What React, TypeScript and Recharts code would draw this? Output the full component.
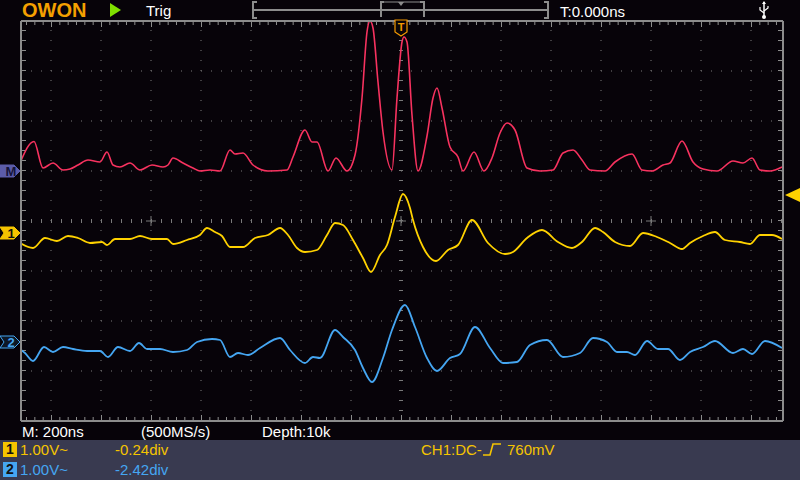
import React from 'react';
import { LineChart, Line, XAxis, YAxis, ReferenceLine, ReferenceDot } from 'recharts';

// time in ns (200ns/div), values in divisions (1.00V/div)
const mathTime = [-1524,-1468,-1432,-1392,-1352,-1324,-1292,-1252,-1204,-1176,-1152,-1124,-1084,-1044,-996,-952,-932,-912,-872,-832,-804,-764,-724,-684,-664,-632,-592,-532,-456,-432,-384,-356,-336,-292,-260,-216,-184,-156,-136,-124,-112,-92,-72,-36,-16,4,12,24,44,68,104,128,144,164,196,228,248,292,332,364,396,424,456,504,556,608,648,688,724,756,816,856,924,964,1004,1048,1076,1124,1168,1208,1264,1328,1368,1404,1436,1476,1524];
const mathVal = [0.16,0.59,0.06,0.16,0.02,0.04,0.12,0.22,0.18,0.38,0.12,0.08,0.16,0.02,0.12,0.08,0.12,0.26,0.16,0.06,0,0.02,0,0.42,0.34,0.36,0.12,0,0.02,0.28,0.82,0.58,0.58,0,0.26,0,0.32,1.46,2.78,3.0,2.86,1.78,0.78,0.02,1.46,2.58,2.68,2.58,1.12,0,0.7,1.46,1.66,1.26,0.48,0.28,0,0.38,0,0.26,0.76,0.96,0.82,0.06,0,0.02,0.36,0.42,0.22,0.02,0,0.18,0.34,0.02,0,0.12,0.16,0.6,0.18,0.04,0,0.2,0.16,0.26,0.02,0,0.08];

const ch1Time = [-1524,-1472,-1424,-1376,-1332,-1292,-1244,-1196,-1176,-1144,-1084,-1044,-996,-936,-912,-856,-804,-776,-744,-716,-684,-632,-584,-532,-484,-452,-416,-384,-336,-296,-264,-232,-192,-152,-120,-84,-56,-24,8,36,48,88,140,188,228,284,348,416,448,504,564,628,684,724,776,808,856,916,968,1024,1076,1124,1156,1208,1256,1296,1356,1396,1436,1484,1524];
const ch1Val = [-0.2,-0.3,-0.1,-0.16,-0.06,-0.1,-0.2,-0.18,-0.24,-0.12,-0.12,-0.06,-0.12,-0.12,-0.22,-0.14,-0.04,0.1,0.02,-0.06,-0.28,-0.28,-0.1,-0.04,0.1,-0.04,-0.3,-0.38,-0.34,-0.04,0.2,0.16,-0.14,-0.5,-0.78,-0.44,-0.24,0.32,0.78,0.5,0.26,-0.28,-0.56,-0.34,-0.24,0.26,-0.2,-0.42,-0.38,-0.1,0.06,-0.18,-0.3,-0.18,0.1,0.02,-0.18,-0.26,0,-0.08,-0.2,-0.32,-0.2,-0.06,0.02,-0.14,-0.18,-0.22,-0.04,-0.04,-0.12];

const ch2Time = [-1524,-1504,-1472,-1428,-1392,-1352,-1312,-1256,-1204,-1172,-1132,-1084,-1048,-1016,-964,-912,-856,-816,-756,-724,-684,-652,-612,-564,-484,-444,-384,-352,-324,-264,-232,-184,-152,-116,-72,-36,16,56,104,144,196,236,296,356,408,464,516,584,648,716,768,824,864,904,936,984,1028,1068,1116,1156,1208,1256,1328,1368,1404,1456,1524];
const ch2Val = [-0.14,-0.22,-0.38,-0.1,-0.2,-0.1,-0.14,-0.18,-0.18,-0.3,-0.1,-0.18,-0.02,-0.14,-0.14,-0.2,-0.16,0,0.06,0.04,-0.3,-0.22,-0.26,-0.12,0.08,-0.16,-0.42,-0.3,-0.32,0.24,0.1,-0.16,-0.52,-0.8,-0.32,0.24,0.74,0.3,-0.32,-0.58,-0.32,-0.24,0.3,-0.12,-0.42,-0.4,-0.06,0.04,-0.3,-0.22,0.08,0,-0.2,-0.2,-0.26,0.02,-0.14,-0.14,-0.36,-0.2,-0.1,0.02,-0.22,-0.14,-0.24,0.02,-0.12];

// channel positions (div) and trigger level (V)
const mathOffset = 1;
const ch1Offset = -0.24;
const ch2Offset = -2.42;
const trigLevel = 0.76;

const xMin = -1520;
const xMax = 1528;
const gridX = [-1400,-1200,-1000,-800,-600,-400,-200,200,400,600,800,1000,1200,1400];
const gridY = [-3,-2,-1,1,2,3];
const crossX = [-1000, 0, 1000];

const toRows = (t: number[], v: number[], off: number) =>
  t.map((x, i) => ({ t: x, v: +(v[i] + off).toFixed(3) }));

const mathData = toRows(mathTime, mathVal, mathOffset);
const ch1Data = toRows(ch1Time, ch1Val, ch1Offset);
const ch2Data = toRows(ch2Time, ch2Val, ch2Offset);

const YEL = '#ffd200';
const BLU = '#45a6f2';
const RED = '#f7325f';
const GRID = '#7a7a7a';
const FRAME = '#8c8c8c';
const FONT = '"Liberation Sans", Arial, sans-serif';

const LeftTag = (label: string, fill: string, stroke: string, txt: string, notch: boolean) => (p: any) => {
  const { cx, cy } = p;
  const pts = notch
    ? `${cx - 21},${cy - 6} ${cx - 7},${cy - 6} ${cx - 1},${cy} ${cx - 7},${cy + 6} ${cx - 21},${cy + 6} ${cx - 17},${cy}`
    : `${cx - 21},${cy - 6} ${cx - 7},${cy - 6} ${cx - 1},${cy} ${cx - 7},${cy + 6} ${cx - 21},${cy + 6}`;
  return (
    <g>
      <polygon points={pts} fill={fill} stroke={stroke} strokeWidth={1} />
      <text x={cx - 10} y={cy + 5} fontSize={13} fontWeight="bold" fontFamily={FONT} fill={txt} textAnchor="middle">
        {label}
      </text>
    </g>
  );
};

const TrigTag = (p: any) => {
  const { cx, cy } = p;
  return (
    <g>
      <polygon
        points={`${cx - 6},${cy - 1} ${cx + 6},${cy - 1} ${cx + 6},${cy + 11} ${cx},${cy + 15} ${cx - 6},${cy + 11}`}
        fill="#0a0508"
        stroke="#f59a00"
        strokeWidth={1.2}
      />
      <text x={cx} y={cy + 10} fontSize={11} fontWeight="bold" fontFamily={FONT} fill="#f59a00" textAnchor="middle">
        T
      </text>
    </g>
  );
};

const LevelTag = (p: any) => {
  const { cx, cy } = p;
  return <polygon points={`${cx + 2},${cy} ${cx + 17},${cy - 7} ${cx + 17},${cy + 7}`} fill={YEL} />;
};

const txt = (left: number, top: number, color: string, s: string, extra: any = {}) => (
  <div style={{ position: 'absolute', left, top, color, fontSize: 15, lineHeight: '15px', whiteSpace: 'pre', ...extra }}>{s}</div>
);

export default function App() {
  return (
    <div
      style={{
        position: 'absolute',
        left: 0,
        top: 0,
        width: 800,
        height: 480,
        background: '#070309',
        overflow: 'hidden',
        fontFamily: FONT,
      }}
    >
      <LineChart width={800} height={480} margin={{ top: 21, left: 21, right: 17, bottom: 59 }}>
        <XAxis type="number" dataKey="t" domain={[xMin, xMax]} hide allowDataOverflow />
        <YAxis type="number" domain={[-4, 4]} hide allowDataOverflow />

        {gridX.map((x) => (
          <ReferenceLine key={'gx' + x} x={x} stroke={GRID} strokeWidth={1} strokeDasharray="1 9" />
        ))}
        {gridY.map((y) => (
          <ReferenceLine key={'gy' + y} y={y} stroke={GRID} strokeWidth={1} strokeDasharray="1 9" />
        ))}
        <ReferenceLine x={0} stroke={GRID} strokeWidth={4} strokeDasharray="1 9" />
        <ReferenceLine y={0} stroke={GRID} strokeWidth={4} strokeDasharray="1 9" />
        {crossX.map((x) => (
          <ReferenceLine key={'cv' + x} segment={[{ x, y: -0.1 }, { x, y: 0.1 }]} stroke={GRID} strokeWidth={1} />
        ))}
        {crossX.map((x) => (
          <ReferenceLine key={'ch' + x} segment={[{ x: x - 20, y: 0 }, { x: x + 20, y: 0 }]} stroke={GRID} strokeWidth={1} />
        ))}

        <ReferenceLine x={xMin + 12} stroke={FRAME} strokeWidth={4} strokeDasharray="1 9" ifOverflow="visible" />
        <ReferenceLine x={xMax - 12} stroke={FRAME} strokeWidth={4} strokeDasharray="1 9" ifOverflow="visible" />
        <ReferenceLine y={3.96} stroke={FRAME} strokeWidth={4} strokeDasharray="1 7.333" strokeDashoffset={3.333} ifOverflow="visible" />
        <ReferenceLine y={3.94} stroke={FRAME} strokeWidth={6} strokeDasharray="1 49" strokeDashoffset={20} ifOverflow="visible" />
        <ReferenceLine y={-3.96} stroke={FRAME} strokeWidth={4} strokeDasharray="1 7.333" strokeDashoffset={3.333} ifOverflow="visible" />
        <ReferenceLine y={-3.94} stroke={FRAME} strokeWidth={6} strokeDasharray="1 49" strokeDashoffset={20} ifOverflow="visible" />

        <Line data={mathData} dataKey="v" type="monotone" stroke={RED} strokeWidth={1.6} dot={false} isAnimationActive={false} />
        <Line data={ch1Data} dataKey="v" type="monotone" stroke={YEL} strokeWidth={1.8} dot={false} isAnimationActive={false} />
        <Line data={ch2Data} dataKey="v" type="monotone" stroke={BLU} strokeWidth={1.8} dot={false} isAnimationActive={false} />

        <ReferenceLine x={xMin} stroke={FRAME} strokeWidth={2} ifOverflow="visible" />
        <ReferenceLine x={xMax} stroke={FRAME} strokeWidth={2} ifOverflow="visible" />
        <ReferenceLine y={4} stroke={FRAME} strokeWidth={2} ifOverflow="visible" />
        <ReferenceLine y={-4} stroke={FRAME} strokeWidth={2} ifOverflow="visible" />

        <ReferenceDot x={xMin} y={mathOffset} r={0} ifOverflow="visible" shape={LeftTag('M', '#5c5caa', '#5c5caa', '#14143a', false)} />
        <ReferenceDot x={xMin} y={ch1Offset} r={0} ifOverflow="visible" shape={LeftTag('1', '#f5c400', '#f5c400', '#111', true)} />
        <ReferenceDot x={xMin} y={ch2Offset} r={0} ifOverflow="visible" shape={LeftTag('2', '#0d1826', BLU, BLU, true)} />
        <ReferenceDot x={0} y={4} r={0} ifOverflow="visible" shape={TrigTag} />
        <ReferenceDot x={xMax} y={ch1Offset + trigLevel} r={0} ifOverflow="visible" shape={LevelTag} />
      </LineChart>

      {/* top status bar */}
      <div style={{ position: 'absolute', left: 22, top: 0, color: '#f4a000', fontSize: 20, fontWeight: 'bold', lineHeight: '20px', letterSpacing: 0 }}>
        OWON
      </div>
      <svg style={{ position: 'absolute', left: 109, top: 3 }} width={13} height={15}>
        <polygon points="1,0 12,7 1,14" fill="#7fe000" />
      </svg>
      {txt(146, 3, '#ffffff', 'Trig')}
      <svg style={{ position: 'absolute', left: 250, top: 0 }} width={305} height={20}>
        <polyline points="7,2 3,2 3,18 7,18" fill="none" stroke={FRAME} strokeWidth={2} />
        <line x1={4} y1={10} x2={298} y2={10} stroke={FRAME} strokeWidth={2} />
        <polyline points="294,2 298,2 298,18 294,18" fill="none" stroke={FRAME} strokeWidth={2} />
        <polyline points="134,2 131,2 131,17" fill="none" stroke={FRAME} strokeWidth={2} />
        <polyline points="170,2 174,2 174,17" fill="none" stroke={FRAME} strokeWidth={2} />
        <line x1={131} y1={2} x2={174} y2={2} stroke={FRAME} strokeWidth={1} />
        <polygon points="148,2 154,2 151,6" fill={FRAME} />
      </svg>
      {txt(560, 4, '#ffffff', 'T:0.000ns')}
      <svg style={{ position: 'absolute', left: 758, top: 1 }} width={12} height={19}>
        <line x1={6} y1={1} x2={6} y2={15} stroke="#fff" strokeWidth={1.5} />
        <polygon points="4,3 8,3 6,0" fill="#fff" />
        <polyline points="6,12 2,9 2,6" fill="none" stroke="#fff" strokeWidth={1.2} />
        <polyline points="6,10 10,7 10,5" fill="none" stroke="#fff" strokeWidth={1.2} />
        <circle cx={6} cy={16} r={2} fill="#fff" />
      </svg>

      {/* bottom info */}
      {txt(22, 424, '#ffffff', 'M: 200ns')}
      {txt(141, 424, '#ffffff', '(500MS/s)')}
      {txt(262, 424, '#ffffff', 'Depth:10k')}

      <div style={{ position: 'absolute', left: 0, top: 440, width: 800, height: 40, background: '#393a50' }} />
      <div style={{ position: 'absolute', left: 3, top: 442, width: 14, height: 15, background: '#f5c400', color: '#111', fontSize: 14, fontWeight: 'bold', lineHeight: '15px', textAlign: 'center' }}>1</div>
      {txt(20, 442, '#f5c400', '1.00V~')}
      {txt(115, 442, '#f5c400', '-0.24div')}
      <div style={{ position: 'absolute', left: 3, top: 462, width: 14, height: 15, background: BLU, color: '#111', fontSize: 14, fontWeight: 'bold', lineHeight: '15px', textAlign: 'center' }}>2</div>
      {txt(20, 462, BLU, '1.00V~')}
      {txt(115, 462, BLU, '-2.42div')}
      {txt(421, 442, '#f5c400', 'CH1:DC-')}
      <svg style={{ position: 'absolute', left: 483, top: 443 }} width={20} height={14}>
        <polyline points="0,12 7,12 10,1 18,1" fill="none" stroke="#f5c400" strokeWidth={1.6} />
      </svg>
      {txt(507, 442, '#f5c400', '760mV')}
    </div>
  );
}
